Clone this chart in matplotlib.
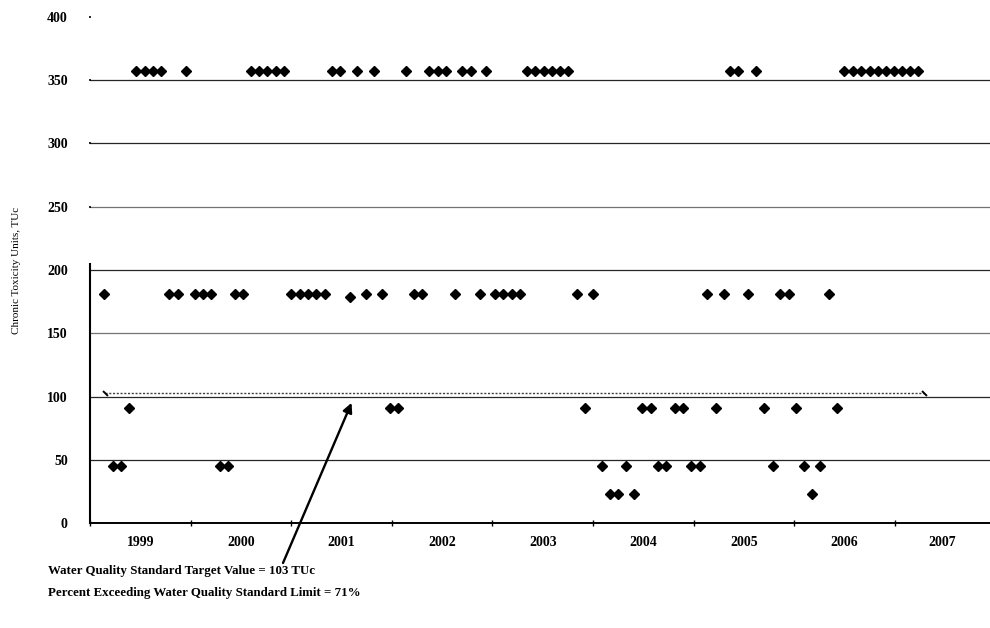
import numpy as np
import matplotlib
matplotlib.use("Agg")
import matplotlib.pyplot as plt

# ------------------------------------------------------------------
# Data (decimal years, chronic toxicity in TUc)
# ------------------------------------------------------------------
x_357 = [1999.46, 1999.55, 1999.63, 1999.71, 1999.95,
         2000.60, 2000.68, 2000.76, 2000.85, 2000.93,
         2001.41, 2001.49, 2001.65, 2001.82, 2002.14,
         2002.37, 2002.46, 2002.54, 2002.70, 2002.79, 2002.94,
         2003.34, 2003.42, 2003.51, 2003.59, 2003.67, 2003.75,
         2005.36, 2005.44, 2005.62,
         2006.50, 2006.58, 2006.66, 2006.75, 2006.83, 2006.91,
         2006.99, 2007.07, 2007.15, 2007.23]
x_181 = [1999.14, 1999.79, 1999.87, 2000.04, 2000.12, 2000.20,
         2000.44, 2000.52, 2001.00, 2001.09, 2001.17, 2001.25, 2001.34,
         2001.58, 2001.74, 2001.90, 2002.22, 2002.30, 2002.63, 2002.88,
         2003.03, 2003.11, 2003.19, 2003.27, 2003.84, 2004.00,
         2005.13, 2005.30, 2005.54, 2005.86, 2005.95, 2006.35]
y_181 = [181] * 13 + [179] + [181] * 18
x_91 = [1999.39, 2001.98, 2002.06, 2003.92, 2004.49, 2004.58,
        2004.82, 2004.89, 2005.22, 2005.70, 2006.02, 2006.43]
x_45 = [1999.23, 1999.31, 2000.29, 2000.37, 2004.09, 2004.33,
        2004.65, 2004.73, 2004.97, 2005.06, 2005.79, 2006.10, 2006.26]
x_23 = [2004.17, 2004.25, 2004.41, 2006.18]

target_value = 103
target_x = [1999.15, 2007.29]

years = list(range(1999, 2008))
y_ticks = [0, 50, 100, 150, 200, 250, 300, 350, 400]

notes = ["Water Quality Standard Target Value = 103 TUc",
         "Percent Exceeding Water Quality Standard Limit = 71%"]

# ------------------------------------------------------------------
# Figure
# ------------------------------------------------------------------
plt.rcParams["font.family"] = ["Liberation Serif", "DejaVu Serif"]
plt.rcParams["font.weight"] = "bold"

fig = plt.figure(figsize=(9.9, 6.28), dpi=100)
ax = fig.add_axes([90 / 990, 105 / 628, 900 / 990, 506 / 628])

ax.set_xlim(1999, 1999 + 900 / 100.6)
ax.set_ylim(0, 400)

# horizontal grid lines (scanned look: dark, thin)
for v in y_ticks[1:-1]:
    col = "0.15" if v in (50, 100, 200, 300, 350) else "0.45"
    ax.axhline(v, color=col, lw=0.9, zorder=1)

# target value line
ax.plot(target_x, [target_value] * 2, color="0.25", lw=1.0, ls=(0, (1.5, 1.2)),
        zorder=2)
ax.plot(target_x, [target_value] * 2, ls="none", marker=(2, 0, 45),
        ms=5, mew=1.4, color="black", zorder=3)

mk = dict(ls="none", marker="D", ms=4.8, color="black", mec="black", zorder=4)
ax.plot(x_357, [357] * len(x_357), **mk)
ax.plot(x_181, y_181, **mk)
ax.plot(x_91, [91] * len(x_91), **mk)
ax.plot(x_45, [45] * len(x_45), **mk)
ax.plot(x_23, [23] * len(x_23), **mk)

# axes styling
for s in ("top", "right"):
    ax.spines[s].set_visible(False)
ax.spines["left"].set_bounds(0, 205)
ax.spines["left"].set_linewidth(1.5)
ax.spines["bottom"].set_linewidth(1.4)

ax.set_yticks(y_ticks)
ax.set_yticklabels([str(v) for v in y_ticks])
ax.tick_params(axis="y", length=2, width=1.2, direction="inout", pad=15,
               labelsize=10)

ax.set_xticks(years)
ax.set_xticklabels([])
ax.set_xticks([y + 0.5 for y in years[:-1]] + [2007.47], minor=True)
ax.set_xticklabels([str(y) for y in years], minor=True)
ax.tick_params(axis="x", which="major", length=4, width=1, direction="inout")
ax.tick_params(axis="x", which="minor", length=0, pad=9, labelsize=10)

ax.set_ylabel("Chronic Toxicity Units, TUc", fontsize=8, labelpad=19)

# annotation arrow to the target line
ax.annotate("", xy=(2001.6, 95), xycoords="data",
            xytext=(283, 628 - 563), textcoords="figure pixels",
            arrowprops=dict(arrowstyle="-|>", color="black", lw=1.7,
                            mutation_scale=14, shrinkA=0, shrinkB=0),
            annotation_clip=False)

fig.text(48 / 990, 1 - 571 / 628, notes[0], fontsize=9.3, va="center",
         ha="left")
fig.text(48 / 990, 1 - 593 / 628, notes[1], fontsize=9.3, va="center",
         ha="left")

fig.savefig("out.png", dpi=100, facecolor="white")
